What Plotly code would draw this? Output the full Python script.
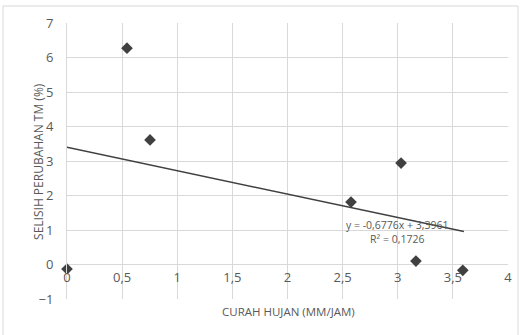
import plotly.graph_objects as go

curah_hujan = [0, 0.544, 0.753, 2.576, 3.03, 3.165, 3.59]
selisih_tm = [-0.13, 6.27, 3.61, 1.81, 2.94, 0.10, -0.17]
slope = -0.6776
intercept = 3.3961
r2 = 0.1726
trend_x = [0, 3.6]
x_ticks = [0, 0.5, 1, 1.5, 2, 2.5, 3, 3.5, 4]
x_tick_text = ["0", "0,5", "1", "1,5", "2", "2,5", "3", "3,5", "4"]
y_ticks = [-1, 0, 1, 2, 3, 4, 5, 6, 7]

font = "Open Sans"
grey = "#595959"

fig = go.Figure()
fig.add_trace(go.Scatter(
    x=curah_hujan, y=selisih_tm, mode="markers",
    marker=dict(symbol="diamond", size=9, color="#404040"),
    showlegend=False, cliponaxis=False))
fig.add_trace(go.Scatter(
    x=trend_x, y=[slope * v + intercept for v in trend_x], mode="lines",
    line=dict(color="#404040", width=1.5), showlegend=False))

fig.update_layout(
    width=528, height=335,
    margin=dict(l=67, r=20, t=23, b=36),
    paper_bgcolor="white", plot_bgcolor="white",
    font=dict(family=font, size=12, color=grey),
    xaxis=dict(range=[0, 4], tickvals=x_ticks, ticktext=x_tick_text,
               showgrid=True, gridcolor="#d9d9d9", gridwidth=1,
               zeroline=False, showline=False, anchor="free", position=0.125,
               ticks="", ticklabelstandoff=3,
               tickfont=dict(family=font, size=13, color=grey)),
    yaxis=dict(range=[-1, 7], tickvals=y_ticks,
               showgrid=True, gridcolor="#d9d9d9", gridwidth=1,
               zeroline=True, zerolinecolor="#d9d9d9", zerolinewidth=1,
               showline=True, linecolor="#d9d9d9", linewidth=1,
               ticks="", ticklabelstandoff=10,
               tickfont=dict(family=font, size=13, color=grey)),
    shapes=[dict(type="rect", xref="paper", yref="paper",
                 x0=-0.1451, x1=1.0227, y0=-0.2, y1=1.0616,
                 line=dict(color="#d9d9d9", width=1), layer="below")],
    annotations=[
        dict(text="CURAH HUJAN (MM/JAM)", xref="paper", yref="paper",
             x=0.503, y=-0.01, xanchor="center", yanchor="top", showarrow=False,
             font=dict(family=font, size=11.5, color=grey)),
        dict(text="SELISIH PERUBAHAN TM (%)", xref="paper", yref="paper",
             x=-0.066, y=0.5, xanchor="center", yanchor="middle",
             textangle=-90, showarrow=False,
             font=dict(family=font, size=12, color=grey)),
        dict(text="y = -0,6776x + 3,3961<br>R² = 0,1726", xref="x", yref="y",
             x=3.0, y=0.95, showarrow=False, align="center",
             font=dict(family=font, size=10.5, color=grey)),
    ],
)

fig.write_html("out.html")
